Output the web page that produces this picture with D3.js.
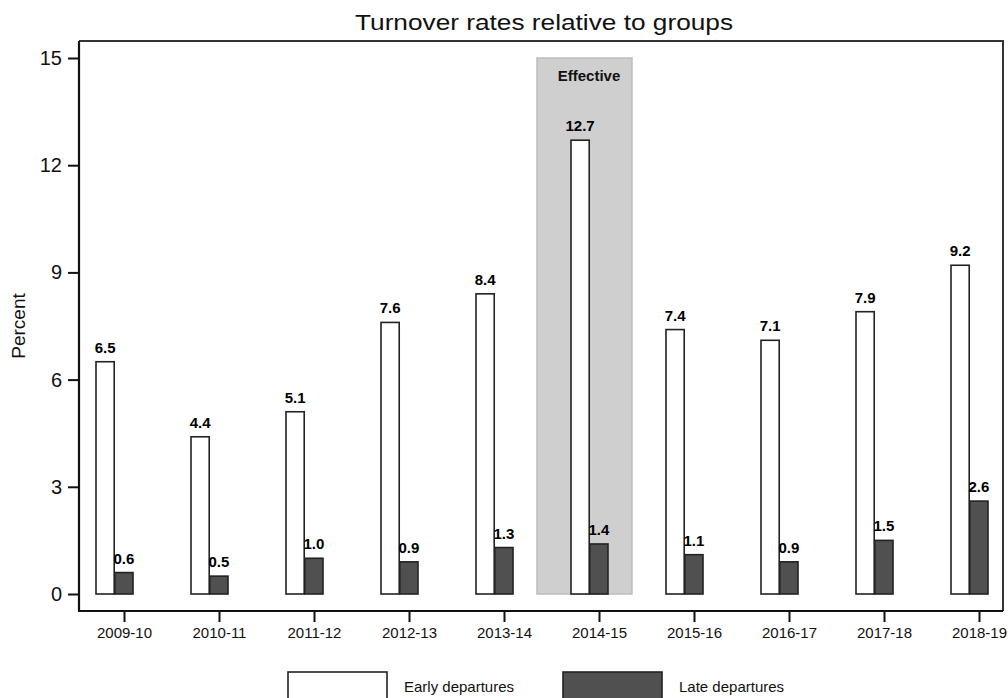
<!DOCTYPE html>
<html>
<head>
<meta charset="utf-8">
<script src="https://cdn.jsdelivr.net/npm/d3@7"></script>
<style>
  body { margin: 0; background: #fff; }
  text { font-family: Arial, "Liberation Sans", sans-serif; }
</style>
</head>
<body>
<script>
// chart data
var years = ["2009-10", "2010-11", "2011-12", "2012-13", "2013-14", "2014-15", "2015-16", "2016-17", "2017-18", "2018-19"];
var series = ["Early departures", "Late departures"];
var early = [6.5, 4.4, 5.1, 7.6, 8.4, 12.7, 7.4, 7.1, 7.9, 9.2];
var late = [0.6, 0.5, 1.0, 0.9, 1.3, 1.4, 1.1, 0.9, 1.5, 2.6];
var yTicks = [0, 3, 6, 9, 12, 15];
var effectiveYear = "2014-15";

var width = 1008, height = 698;
var frameLeft = 79, frameTop = 41, frameRight = 1003, frameBottom = 611;

var fills = {"Early departures": "#ffffff", "Late departures": "#505050"};

var svg = d3.select("body")
  .append("svg")
  .attr("width", width)
  .attr("height", height);

var xScale = d3.scalePoint()
  .domain(years)
  .range([124, 979]);
var step = xScale.step();

// the two bars sit left of the tick, late bar centred on it
var xSub = d3.scaleBand()
  .domain(series)
  .range([-28, 9])
  .paddingInner(0.03);

var yScale = d3.scaleLinear()
  .domain([0, 15])
  .range([594, 58]);

// title
svg.append("text")
  .attr("x", 544)
  .attr("y", 30)
  .attr("text-anchor", "middle")
  .attr("font-size", 22)
  .attr("textLength", 378)
  .attr("lengthAdjust", "spacingAndGlyphs")
  .attr("fill", "#111")
  .text("Turnover rates relative to groups");

// shaded "Effective" period
svg.append("rect")
  .attr("x", xScale(effectiveYear) - step / 2 - 14.5)
  .attr("y", yScale(15))
  .attr("width", step)
  .attr("height", yScale(0) - yScale(15))
  .attr("fill", "#cfcfcf")
  .attr("stroke", "#bdbdbd")
  .attr("stroke-width", 1.5);

svg.append("text")
  .attr("x", xScale(effectiveYear) - 10)
  .attr("y", 81)
  .attr("text-anchor", "middle")
  .attr("font-size", 15)
  .attr("font-weight", "bold")
  .attr("fill", "#111")
  .text("Effective");

// plot frame (top and right)
svg.append("path")
  .attr("d", `M${frameLeft},${frameTop}H${frameRight}V${frameBottom}`)
  .attr("fill", "none")
  .attr("stroke", "#333")
  .attr("stroke-width", 2);

var rows = years.map(function(y, i) {
  return {year: y, values: [
    {key: "Early departures", value: early[i]},
    {key: "Late departures", value: late[i]}
  ]};
});

var groups = svg.selectAll("g.year")
  .data(rows)
  .enter()
  .append("g")
  .attr("class", "year")
  .attr("transform", function(d) { return `translate(${xScale(d.year)},0)`; });

groups.selectAll("rect")
  .data(function(d) { return d.values; })
  .enter()
  .append("rect")
  .attr("x", function(d) { return xSub(d.key); })
  .attr("y", function(d) { return yScale(d.value); })
  .attr("width", xSub.bandwidth())
  .attr("height", function(d) { return yScale(0) - yScale(d.value); })
  .attr("fill", function(d) { return fills[d.key]; })
  .attr("stroke", "#222")
  .attr("stroke-width", 1.6);

groups.selectAll("text.val")
  .data(function(d) { return d.values; })
  .enter()
  .append("text")
  .attr("class", "val")
  .attr("x", function(d) { return xSub(d.key) + xSub.bandwidth() / 2; })
  .attr("y", function(d) { return yScale(d.value) - 9; })
  .attr("text-anchor", "middle")
  .attr("font-size", 15)
  .attr("font-weight", "bold")
  .attr("fill", "#000")
  .text(function(d) { return d.value.toFixed(1); });

// axes
var xAxis = d3.axisBottom(xScale).tickSize(11).tickPadding(5);
var yAxis = d3.axisLeft(yScale).tickValues(yTicks).tickSize(11).tickPadding(6);

var gx = svg.append("g")
  .attr("transform", `translate(0, ${frameBottom})`)
  .call(xAxis);
gx.select(".domain").attr("d", `M${frameLeft - 1},0H${frameRight}`).attr("stroke", "#111").attr("stroke-width", 2.2);
gx.selectAll(".tick line").attr("stroke", "#111").attr("stroke-width", 2);
gx.selectAll(".tick text").attr("font-size", 15).attr("fill", "#111").attr("font-family", "Arial, 'Liberation Sans', sans-serif");

var gy = svg.append("g")
  .attr("transform", `translate(${frameLeft}, 0)`)
  .call(yAxis);
gy.select(".domain").attr("d", `M0,${frameTop}V${frameBottom}`).attr("stroke", "#111").attr("stroke-width", 2.2);
gy.selectAll(".tick line").attr("stroke", "#111").attr("stroke-width", 2);
gy.selectAll(".tick text").attr("font-size", 20).attr("fill", "#111").attr("font-family", "Arial, 'Liberation Sans', sans-serif");

svg.append("text")
  .attr("transform", "translate(25, 326) rotate(-90)")
  .attr("text-anchor", "middle")
  .attr("font-size", 19)
  .attr("fill", "#111")
  .text("Percent");

// legend
var legendX = [288, 563];
var legend = svg.selectAll("g.legend")
  .data(series)
  .enter()
  .append("g")
  .attr("class", "legend")
  .attr("transform", function(d, i) { return `translate(${legendX[i]}, 672)`; });

legend.append("rect")
  .attr("width", 99)
  .attr("height", 34)
  .attr("fill", function(d) { return fills[d]; })
  .attr("stroke", "#222")
  .attr("stroke-width", 1.6);

legend.append("text")
  .attr("x", 116)
  .attr("y", 20)
  .attr("font-size", 15)
  .attr("fill", "#111")
  .text(function(d) { return d; });
</script>
</body>
</html>
